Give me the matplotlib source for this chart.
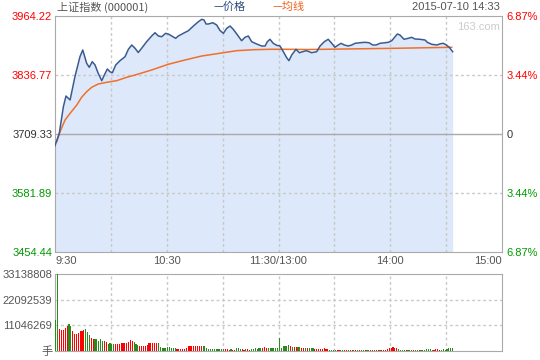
import matplotlib.pyplot as plt

plt.rcParams['font.family'] = ['Liberation Sans', 'Noto Sans CJK SC', 'DejaVu Sans']

PREV_CLOSE = 3709.33
Y_TICKS = [3454.44, 3581.89, 3709.33, 3836.77, 3964.22]
Y_TICK_COLORS = ['#009900', '#009900', '#333333', '#ff0000', '#ff0000']
PCT_LABELS = ['6.87%', '3.44%', '0', '3.44%', '6.87%']
X_TICKS = [0, 60, 120, 180, 240]
X_LABELS = ['9:30', '10:30', '11:30/13:00', '14:00', '15:00']

# minutes after 9:30 (trading minutes) and index level
price_min = [0, 2.3, 4.5, 5.9, 8.1, 10.7, 13.4, 14.9, 17.0, 18.4, 20.0, 21.5, 23.2, 25.1,
             26.5, 28.1, 29.5, 30.8, 32.6, 34.9, 37.6, 39.4, 41.2, 43.0, 44.7, 46.5, 49.2,
             51.9, 53.7, 55.5, 57.3, 59.4, 60.8, 62.7, 64.8, 66.2, 68.9, 71.6, 74.3, 77.0,
             78.8, 80.0, 81.1, 82.3, 84.7, 86.8, 88.6, 90.4, 92.2, 94.0, 95.7, 97.6, 100.2,
             102.0, 103.8, 105.6, 108.3, 111.0, 112.8, 114.0, 115.4, 117.2, 119.0, 120.8,
             122.6, 124.4, 125.6, 127.1, 129.4, 131.2, 133.0, 134.8, 136.5, 137.8, 140.5,
             142.3, 144.6, 146.7, 148.6, 150.3, 152.1, 153.6, 155.3, 157.5, 159.3, 161.1,
             163.8, 166.4, 168.6, 170.6, 172.4, 174.5, 177.2, 179.0, 180.8, 182.6, 183.8,
             185.2, 187.4, 189.7, 191.5, 193.3, 196.0, 198.7, 199.9, 202.3, 205.0, 207.1,
             208.5, 209.9, 211.7, 213.5]
price = [3684.0, 3710.8, 3768.3, 3791.4, 3782.8, 3833.1, 3876.3, 3890.8, 3862.0, 3853.4,
         3865.5, 3858.4, 3840.4, 3824.5, 3836.8, 3849.7, 3843.9, 3841.7, 3858.4, 3867.7,
         3876.3, 3892.3, 3901.6, 3894.4, 3885.4, 3894.4, 3908.7, 3921.0, 3928.1, 3921.0,
         3919.5, 3926.8, 3925.3, 3921.0, 3916.0, 3921.0, 3926.8, 3932.4, 3942.6, 3951.9,
         3957.1, 3955.6, 3946.9, 3946.9, 3949.7, 3944.8, 3932.9, 3926.8, 3937.6, 3942.6,
         3935.5, 3925.3, 3910.8, 3918.2, 3921.0, 3908.7, 3903.7, 3899.4, 3899.4, 3908.7,
         3913.9, 3905.2, 3900.9, 3899.4, 3887.1, 3874.1, 3867.7, 3880.0, 3892.3, 3884.9,
         3887.1, 3889.3, 3887.1, 3884.9, 3887.1, 3899.4, 3908.7, 3913.9, 3905.2, 3896.6,
         3901.6, 3905.2, 3901.6, 3899.4, 3901.6, 3905.2, 3906.5, 3907.4, 3906.5, 3901.6,
         3901.6, 3905.2, 3906.5, 3907.4, 3910.8, 3919.5, 3925.3, 3923.2, 3913.9, 3916.0,
         3918.2, 3914.5, 3913.9, 3912.3, 3907.4, 3903.1, 3901.6, 3904.4, 3905.2, 3902.2,
         3896.6, 3887.1]

avg_min = [0.9, 2.7, 5.4, 8.1, 11.7, 14.3, 17.0, 19.7, 23.2, 27.8, 33.1, 38.5, 43.0, 51.9,
           60.8, 69.8, 78.8, 90.4, 97.6, 106.5, 115.4, 124.4, 136.0, 181.6, 213.0]
avg_price = [3692.7, 3714.3, 3739.6, 3754.0, 3772.0, 3788.6, 3800.7, 3810.2, 3817.3,
             3821.0, 3824.5, 3831.8, 3836.8, 3847.6, 3859.9, 3869.2, 3877.8, 3884.9,
             3889.3, 3891.4, 3892.3, 3892.3, 3891.8, 3894.4, 3896.6]

# per-minute volume (millions of 手) and up/down flag
vol_m = [13.5, 33.1, 9.6, 8.9, 8.9, 10.1, 10.6, 11.5, 10.6, 8.5,
         7.2, 7.2, 7.7, 8.5, 8.5, 8.9, 9.3, 8.0, 6.8, 5.5,
         5.0, 5.0, 5.0, 4.2, 5.0, 4.2, 4.2, 3.7, 2.9, 3.4,
         2.9, 2.9, 2.9, 2.9, 2.9, 3.3, 3.3, 3.3, 3.3, 3.9,
         4.6, 4.2, 3.7, 2.9, 2.4, 2.0, 2.0, 2.0, 2.0, 2.4,
         3.3, 3.3, 3.3, 3.3, 3.3, 3.3, 1.8, 1.4, 1.4, 1.4,
         1.6, 1.6, 1.4, 1.2, 1.2, 1.0, 1.0, 1.0, 1.0, 1.0,
         1.2, 2.3, 2.3, 2.3, 2.3, 2.3, 2.3, 2.3, 2.3, 2.0,
         2.0, 1.2, 1.0, 1.0, 1.0, 1.0, 1.0, 1.0, 1.0, 1.0,
         1.0, 0.8, 0.8, 0.6, 0.8, 0.6, 0.6, 1.4, 1.2, 1.0,
         1.0, 0.6, 0.8, 0.7, 0.6, 0.8, 0.7, 1.2, 1.0, 1.2,
         1.3, 1.2, 1.7, 1.3, 1.2, 1.2, 1.2, 1.2, 1.2, 1.2,
         5.5, 1.2, 2.0, 2.0, 2.2, 2.4, 2.0, 1.6, 1.6, 1.6,
         1.6, 1.6, 1.2, 1.2, 1.2, 1.2, 1.2, 1.2, 1.2, 0.9,
         0.9, 0.9, 0.9, 0.9, 1.2, 0.9, 0.9, 0.6, 0.6, 0.6,
         0.6, 0.6, 0.4, 0.6, 0.6, 0.4, 0.6, 0.6, 0.6, 0.6,
         0.4, 0.6, 0.4, 0.6, 0.6, 0.6, 0.4, 0.6, 0.6, 0.6,
         0.4, 0.6, 0.4, 0.4, 0.6, 0.4, 0.4, 0.6, 1.0, 1.2,
         1.4, 1.6, 1.2, 1.2, 0.8, 0.6, 0.6, 0.6, 0.4, 0.6,
         0.6, 0.6, 0.6, 0.6, 0.6, 0.6, 0.6, 0.6, 0.6, 0.8,
         0.8, 1.0, 0.6, 0.6, 0.8, 1.0, 0.6, 0.6, 1.0, 0.6,
         0.8, 1.2, 1.4, 1.4]
vol_dir = ("ggrrrrrggr" "rrrrrrgggr" "rgggggrrgg" "ggrrrrrrrr" "rrgggrrrrr"
           "rrrrrggggg" "gggggrrrrr" "rrrrrrrrrg" "gggggggggg" "grrrgrrggg"
           "rrgrrggggg" "grrrgggggg" "ggggggrgrr" "ggrrgrgggr" "rrrrrrrggg"
           "grrggrrgrr" "grgrggrggr" "rgrrgrrrrr" "rrrrggggrg" "ggrggrgggg"
           "gggrrrrggg" "gggg")
VOL_TICKS = [11046269, 22092539, 33138808]

GRID = '#c8c8c8'
SPINE = '#aaaaaa'
TXT = '#555555'

fig = plt.figure(figsize=(5.4, 3.6), dpi=100)
ax = fig.add_axes([55 / 540, 0.3, 447 / 540, 236 / 360])
vax = fig.add_axes([55 / 540, 9 / 360, 447 / 540, 77 / 360])

# price panel
ax.fill_between(price_min, price, Y_TICKS[0], color='#dde8fa', lw=0, zorder=1)
for t in range(30, 240, 30):
    ax.axvline(t, color=GRID, lw=1, ls=(0, (2, 2)), zorder=2)
for yv in (Y_TICKS[1], Y_TICKS[3]):
    ax.axhline(yv, color=GRID, lw=1, ls=(0, (2, 2)), zorder=2)
ax.axhline(PREV_CLOSE, color=SPINE, lw=1, zorder=2)
ax.plot(avg_min, avg_price, color='#f0702a', lw=1.1, zorder=3)
ax.plot(price_min, price, color='#3b5b8f', lw=1.1, zorder=4)
ax.set_xlim(0, 240)
ax.set_ylim(Y_TICKS[0], Y_TICKS[-1])
ax.set_yticks(Y_TICKS)
ax.set_yticklabels([f"{v:.2f}" for v in Y_TICKS])
for lab, c in zip(ax.get_yticklabels(), Y_TICK_COLORS):
    lab.set_color(c)
ax.set_xticks(X_TICKS)
ax.set_xticklabels(X_LABELS)
xl = ax.get_xticklabels()
xl[0].set_ha('left')
xl[-1].set_ha('right')
ax.tick_params(axis='y', length=0, pad=2, labelsize=8)
ax.tick_params(axis='x', length=0, pad=3, labelsize=8, labelcolor=TXT)
for s in ax.spines.values():
    s.set_color(SPINE)

rax = ax.twinx()
rax.set_ylim(Y_TICKS[0], Y_TICKS[-1])
rax.set_yticks(Y_TICKS)
rax.set_yticklabels(PCT_LABELS)
for lab, c in zip(rax.get_yticklabels(), Y_TICK_COLORS):
    lab.set_color(c)
rax.tick_params(axis='y', length=0, pad=3, labelsize=8)
for s in rax.spines.values():
    s.set_visible(False)

ax.text(0.995, 0.955, '163.com', transform=ax.transAxes, ha='right', va='center',
        color='#cccccc', fontsize=8)

# header texts
fig.text(57 / 540, 1 - 7 / 360, '上证指数 (000001)', ha='left', va='center',
         color=TXT, fontsize=8, family=['Noto Sans CJK SC'])
fig.text(213 / 540, 1 - 7 / 360, '—价格', ha='left', va='center',
         color='#2b4a7e', fontsize=8, family=['Noto Sans CJK SC'])
fig.text(272 / 540, 1 - 7 / 360, '—均线', ha='left', va='center',
         color='#f0601a', fontsize=8, family=['Noto Sans CJK SC'])
fig.text(500 / 540, 1 - 7 / 360, '2015-07-10 14:33', ha='right', va='center',
         color=TXT, fontsize=8)

# volume panel
colors = ['#ff0000' if d == 'r' else '#2a8a1a' for d in vol_dir]
vols = [v * 1e6 for v in vol_m]
vax.bar([i + 0.5 for i in range(len(vols))], vols, width=0.6, color=colors, lw=0,
        antialiased=False, zorder=3)
for t in range(30, 240, 30):
    vax.axvline(t, color=GRID, lw=1, ls=(0, (2, 2)), zorder=1)
for yv in VOL_TICKS[:2]:
    vax.axhline(yv, color=GRID, lw=1, ls=(0, (2, 2)), zorder=1)
vax.set_xlim(0, 240)
vax.set_ylim(0, VOL_TICKS[-1])
vax.set_xticks([])
vax.set_yticks([0] + VOL_TICKS)
vax.set_yticklabels(['手'] + [str(v) for v in VOL_TICKS])
vax.tick_params(axis='y', length=0, pad=2, labelsize=8, labelcolor=TXT)
for s in vax.spines.values():
    s.set_color(SPINE)

fig.savefig('out.png', dpi=100)
